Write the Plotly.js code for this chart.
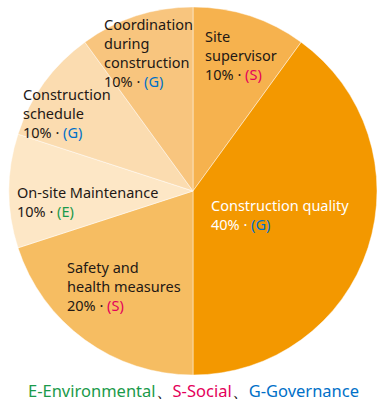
<!DOCTYPE html>
<html>
<head>
<meta charset="utf-8">
<script src="https://cdn.plot.ly/plotly-3.0.1.min.js"></script>
<style>html,body{margin:0;padding:0;background:#fff;}#chart{width:387px;height:402px;}</style>
</head>
<body>
<div id="chart"></div>
<script>
// Data
const categories = ["Site supervisor", "Construction quality", "Safety and health measures", "On-site Maintenance", "Construction schedule", "Coordination during construction"];
const labelLines = [["Site", "supervisor"], ["Construction quality"], ["Safety and", "health measures"], ["On-site Maintenance"], ["Construction", "schedule"], ["Coordination", "during", "construction"]];
const values = [10, 40, 20, 10, 10, 10];
const esgTags = ["S", "G", "S", "E", "G", "G"];
const legendItems = [["E", "Environmental"], ["S", "Social"], ["G", "Governance"]];

// Styles
const sliceColors = ["#f6b24e", "#f39800", "#f6bd62", "#fde7c6", "#fbdcb0", "#f8c57e"];
const tagColors = {E: "#1a9a4a", S: "#e4005a", G: "#0070c8"};
const textColors = ["#231815", "#ffffff", "#231815", "#231815", "#231815", "#231815"];
// label anchor positions in pixels (left x, vertical middle y)
const labelPos = [[203, 55], [209, 214], [65, 286], [15, 201], [21, 113], [102, 52.5]];

const W = 387, H = 402;
const total = values.reduce((a, b) => a + b, 0);

const annotations = categories.map((c, i) => {
  const pct = Math.round(values[i] / total * 100) + "%";
  const tag = esgTags[i];
  const text = labelLines[i].join("<br>") + "<br>" + pct + " · <span style=\"color:" + tagColors[tag] + "\">(" + tag + ")</span>";
  return {
    text: text, showarrow: false, xref: "paper", yref: "paper",
    x: labelPos[i][0] / W, y: 1 - labelPos[i][1] / H,
    xanchor: "left", yanchor: "middle", align: "left",
    font: {family: "Noto Sans, sans-serif", size: 14.5, color: textColors[i]}
  };
});

const legendText = legendItems.map(it => "<span style=\"color:" + tagColors[it[0]] + "\">" + it[0] + "-" + it[1] + "</span>").join("<span style=\"color:#231815\">、</span>");
annotations.push({
  text: legendText, showarrow: false, xref: "paper", yref: "paper",
  x: 193 / W, y: 1 - 390 / H, xanchor: "center", yanchor: "middle",
  font: {family: "Noto Sans, sans-serif", size: 16.5}
});

const trace = {
  type: "pie",
  labels: categories,
  values: values,
  sort: false,
  direction: "clockwise",
  rotation: 0,
  textinfo: "none",
  hoverinfo: "label+percent",
  marker: {colors: sliceColors, line: {color: "rgba(255,255,255,0.45)", width: 1}},
  domain: {x: [9 / W, 377 / W], y: [1 - 375 / H, 1 - 7 / H]},
  showlegend: false
};

const layout = {
  width: W, height: H,
  margin: {l: 0, r: 0, t: 0, b: 0},
  paper_bgcolor: "#ffffff",
  showlegend: false,
  annotations: annotations
};

Plotly.newPlot("chart", [trace], layout, {displayModeBar: false, staticPlot: true});
</script>
</body>
</html>
